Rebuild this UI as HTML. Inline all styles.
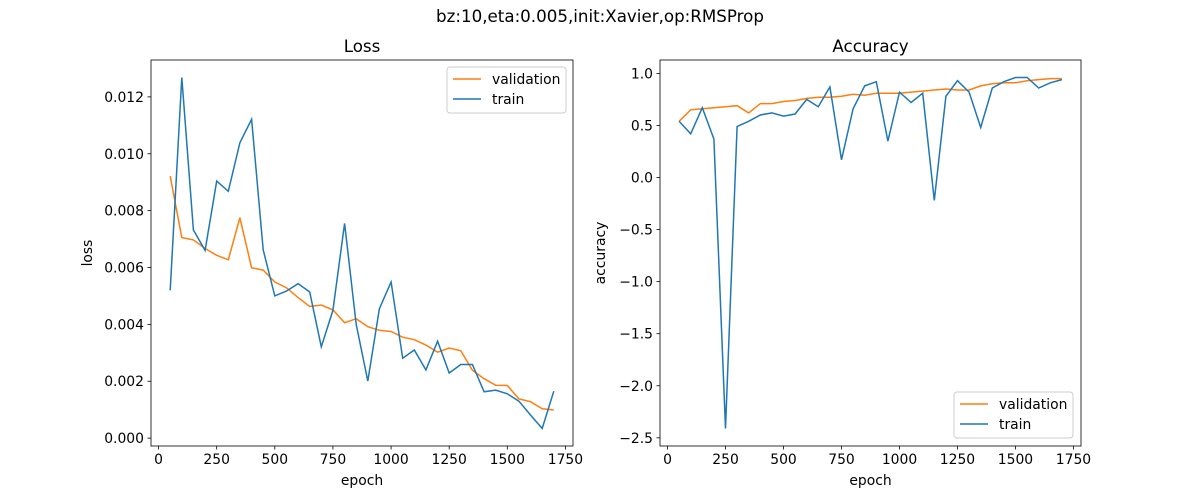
<!DOCTYPE html>
<html><head><meta charset="utf-8"><style>
body{margin:0;background:#fff;}
svg{display:block;font-family:"DejaVu Sans","Liberation Sans",sans-serif;}
</style></head><body>
<svg id="fig" width="1200" height="500" xmlns="http://www.w3.org/2000/svg">
<rect width="1200" height="500" fill="#fff"/>
<text x="600" y="22" font-size="16.7" text-anchor="middle">bz:10,eta:0.005,init:Xavier,op:RMSProp</text>
</svg>
<script>
const epochs=[50,100,150,200,250,300,350,400,450,500,550,600,650,700,750,800,850,900,950,1000,1050,1100,1150,1200,1250,1300,1350,1400,1450,1500,1550,1600,1650,1700];
const lossTrain=[5.20,12.68,7.32,6.60,9.04,8.68,10.39,11.21,6.62,5.00,5.17,5.43,5.14,3.21,4.49,7.55,4.00,2.01,4.55,5.49,2.81,3.10,2.40,3.41,2.29,2.59,2.59,1.63,1.69,1.56,1.30,0.81,0.34,1.65].map(v=>v/1000);
const lossVal=[9.21,7.05,6.97,6.67,6.43,6.27,7.75,5.99,5.91,5.49,5.29,4.94,4.63,4.68,4.51,4.06,4.20,3.92,3.79,3.75,3.55,3.46,3.27,3.02,3.17,3.07,2.39,2.09,1.86,1.85,1.38,1.28,1.03,0.99].map(v=>v/1000);
const accTrain=[0.54,0.42,0.67,0.37,-2.41,0.49,0.54,0.60,0.62,0.59,0.61,0.75,0.68,0.87,0.17,0.66,0.88,0.92,0.35,0.82,0.72,0.81,-0.22,0.78,0.93,0.82,0.48,0.86,0.92,0.96,0.96,0.86,0.91,0.94];
const accVal=[0.54,0.65,0.66,0.67,0.68,0.69,0.62,0.71,0.71,0.73,0.74,0.76,0.77,0.77,0.78,0.80,0.79,0.81,0.81,0.81,0.82,0.83,0.84,0.85,0.84,0.84,0.88,0.90,0.91,0.91,0.93,0.94,0.95,0.95];
const xTicks=[0,250,500,750,1000,1250,1500,1750];
const lossTicks=[0,0.002,0.004,0.006,0.008,0.010,0.012];
const accTicks=[-2.5,-2.0,-1.5,-1.0,-0.5,0.0,0.5,1.0];

const NS="http://www.w3.org/2000/svg";
const fig=document.getElementById('fig');
function el(tag,attrs,parent){const e=document.createElementNS(NS,tag);for(const k in attrs)e.setAttribute(k,attrs[k]);(parent||fig).appendChild(e);return e;}
function ext(arrs){let mn=Infinity,mx=-Infinity;arrs.forEach(a=>a.forEach(v=>{mn=Math.min(mn,v);mx=Math.max(mx,v);}));const m=(mx-mn)*0.05;return [mn-m,mx+m];}

function panel(o){
  const {L,T,W,H}=o;
  const [x0,x1]=ext([epochs]);const [y0,y1]=ext([o.train,o.val]);
  const sx=v=>L+(v-x0)/(x1-x0)*W;
  const sy=v=>T+H-(v-y0)/(y1-y0)*H;
  const g=el('g',{});
  
  
  xTicks.forEach(t=>{
    const x=sx(t);
    const tk=el('line',{x1:x,x2:x,y1:T+H,y2:T+H+3.5,stroke:'#000','stroke-width':0.8},g);
    
    
    const tx=el('text',{x:x,y:T+H+18,'font-size':13.9,'text-anchor':'middle'},g);
    
    
    tx.textContent=String(t);
  });
  o.ticks.forEach(t=>{
    const y=sy(t);
    const tk=el('line',{x1:L-3.5,x2:L,y1:y,y2:y,stroke:'#000','stroke-width':0.8},g);
    
    
    const tx=el('text',{x:L-7,y:y+5,'font-size':13.9,'text-anchor':'end'},g);
    
    
    tx.textContent=t.toFixed(o.dec).replace('-','\u2212');
  });
  const clipId='clip-'+o.name;
  const cp=el('clipPath',{id:clipId},g);el('rect',{x:L,y:T,width:W,height:H},cp);
  const pts=a=>a.map((v,i)=>sx(epochs[i]).toFixed(1)+','+sy(v).toFixed(1)).join(' ');
  const pv=el('polyline',{points:pts(o.val),fill:'none',stroke:'#ff7f0e','stroke-width':1.5,'clip-path':'url(#'+clipId+')'},g);
  
  
  const pt=el('polyline',{points:pts(o.train),fill:'none',stroke:'#1f77b4','stroke-width':1.5,'clip-path':'url(#'+clipId+')'},g);
  
  
  const fr=el('rect',{x:L,y:T,width:W,height:H,fill:'none',stroke:'#000','stroke-width':0.8},g);
  
  
  const ti=el('text',{x:L+W/2,y:T-8,'font-size':16.7,'text-anchor':'middle'},g);
  
  
  ti.textContent=o.title;
  const xl=el('text',{x:L+W/2,y:T+H+39,'font-size':13.9,'text-anchor':'middle'},g);
  
  
  xl.textContent='epoch';
  const yl=el('text',{x:o.ylx,y:T+H/2,'font-size':13.9,'text-anchor':'middle',transform:'rotate(-90 '+o.ylx+' '+(T+H/2)+')'},g);
  
  
  yl.textContent=o.ylabel;
  const lg=el('g',{},g);
  
  
  el('rect',{x:o.lx,y:o.ly,width:119,height:46,rx:3,fill:'#fff','fill-opacity':0.8,stroke:'#ccc'},lg);
  [['validation','#ff7f0e',0],['train','#1f77b4',1]].forEach(([lab,c,i])=>{
    const yy=o.ly+12+i*20;
    const e=el('g',{},lg);
    
    
    el('line',{x1:o.lx+6,x2:o.lx+34,y1:yy,y2:yy,stroke:c,'stroke-width':1.5},e);
    const t=el('text',{x:o.lx+45,y:yy+5,'font-size':13.9},e);t.textContent=lab;
  });
}
panel({name:'loss',L:151,T:60,W:422,H:386,train:lossTrain,val:lossVal,ticks:lossTicks,dec:3,title:'Loss',ylabel:'loss',ylx:92,lx:447,ly:67});
panel({name:'accuracy',L:660,T:60,W:421,H:386,train:accTrain,val:accVal,ticks:accTicks,dec:1,title:'Accuracy',ylabel:'accuracy',ylx:605,lx:954,ly:392});
</script>
</body></html>
